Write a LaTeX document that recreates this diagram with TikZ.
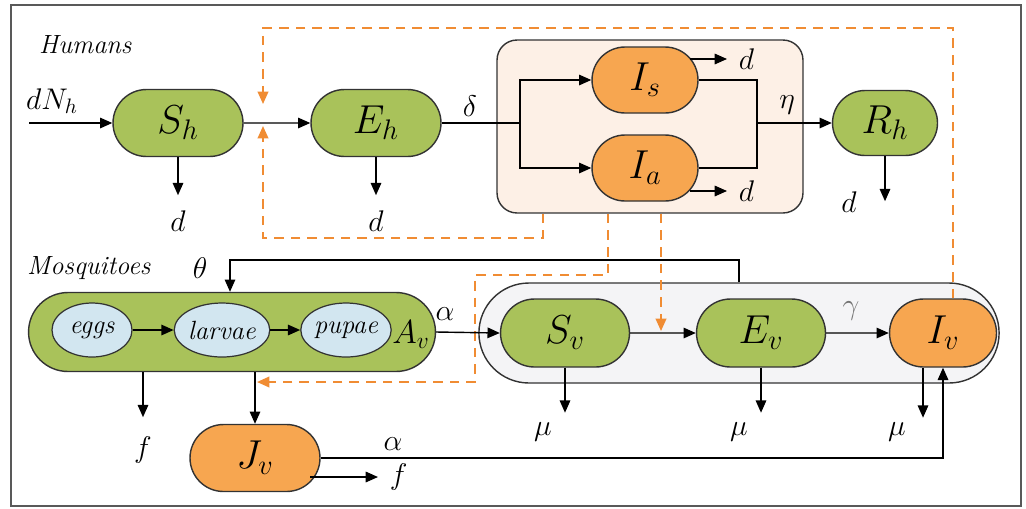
\documentclass[tikz,border=0pt]{standalone}
\usepackage{fix-cm}
\usetikzlibrary{shapes.misc,shapes.geometric,arrows.meta,calc}
\definecolor{grn}{HTML}{A9C25A}
\definecolor{org}{HTML}{F7A650}
\definecolor{peach}{HTML}{FDF0E6}
\definecolor{vgrey}{HTML}{F4F4F6}
\definecolor{lblue}{HTML}{D2E6F0}
\definecolor{dorange}{HTML}{F08C33}
\begin{document}
\begin{tikzpicture}[x=0.02cm,y=-0.02cm,
  box/.style={rounded rectangle, draw=black!80, line width=0.8pt, inner sep=0pt,
    font=\fontsize{23}{27}\selectfont},
  gbox/.style={box, fill=grn},
  obox/.style={box, fill=org},
  egg/.style={ellipse, draw=black!80, line width=0.7pt, fill=lblue, inner sep=0pt,
    minimum height=1.08cm, font=\fontsize{15}{17}\selectfont\itshape},
  arr/.style={-{Triangle[length=7pt,width=6pt]}, line width=0.8pt},
  ln/.style={line width=0.8pt},
  dsh/.style={draw=dorange, dash pattern=on 5.5pt off 4pt, line width=1.1pt},
  darr/.style={dsh, -{Triangle[length=7pt,width=6pt,fill=dorange]}},
  lbl/.style={font=\fontsize{17}{20}\selectfont},
  ttl/.style={font=\fontsize{15}{18}\selectfont\itshape, anchor=west}]
\useasboundingbox (0,0) rectangle (1026,508);
\draw[line width=1.3pt, black!65] (11,5) rectangle (1021,506);

% containers
\node[draw=black!80, fill=peach, rounded corners=0.4cm, line width=0.8pt,
  minimum width=6.12cm, minimum height=3.46cm] (hbox) at (650,126.5) {};
\node[rounded rectangle, draw=black!80, fill=vgrey, line width=0.8pt,
  minimum width=10.64cm, minimum height=2cm] (vbox) at (739,333) {};

% titles
\node[ttl] (th) at (33,45) {Humans};
\node[ttl] (tm) at (21,268) {Mosquitoes};

% human nodes
\node[gbox, minimum width=2.6cm, minimum height=1.34cm] (Sh) at (178,123) {$S_h$};
\node[gbox, minimum width=2.6cm, minimum height=1.34cm] (Eh) at (376,123) {$E_h$};
\node[obox, minimum width=2.12cm, minimum height=1.32cm] (Is) at (645,80) {$I_s$};
\node[obox, minimum width=2.12cm, minimum height=1.32cm] (Ia) at (645,168) {$I_a$};
\node[gbox, minimum width=2.1cm, minimum height=1.3cm] (Rh) at (885,123) {$R_h$};

% mosquito nodes
\node[gbox, minimum width=8.14cm, minimum height=1.58cm] (Av) at (232,332) {};
\node[egg, minimum width=1.6cm] (eggs) at (92,330) {eggs};
\node[egg, minimum width=1.58cm] (larvae) at (222,330) {larvae};
\node[egg, minimum width=1.64cm] (pupae) at (346,330) {pupae};
\node[font=\fontsize{19}{22}\selectfont] (Avl) at (411,335) {$A_v$};
\node[gbox, minimum width=2.58cm, minimum height=1.36cm] (Sv) at (565,333) {$S_v$};
\node[gbox, minimum width=2.58cm, minimum height=1.36cm] (Ev) at (761,333) {$E_v$};
\node[obox, minimum width=2.14cm, minimum height=1.36cm] (Iv) at (943,333) {$I_v$};
\node[obox, minimum width=2.6cm, minimum height=1.34cm] (Jv) at (255,458) {$J_v$};

% coordinates
\coordinate (in) at (29,123);
\coordinate (br) at (520,123);
\coordinate (jn) at (757,123);
\coordinate (t1) at (263,28);
\coordinate (t2) at (263,104);
\coordinate (b1) at (263,238);
\coordinate (b2) at (263,126);
\coordinate (m1) at (475,275);
\coordinate (m2) at (257,382);
\coordinate (ev1) at (661,331);
\coordinate (th1) at (230,260);

% human flows
\draw[arr] (in) -- (Sh);
\node[lbl] (dN) at (52,101) {$dN_h$};
\draw[arr] (Sh) -- (Eh);
\draw[arr] (Sh.south) -- ++(0,38) node[lbl, below=5pt] (d1) {$d$};
\draw[arr] (Eh.south) -- ++(0,38) node[lbl, below=5pt] (d2) {$d$};
\draw[ln] (Eh.east) -- (br);
\draw[arr] (br) |- (Is.west);
\draw[arr] (br) |- (Ia.west);
\node[lbl] (del) at (470,106) {$\delta$};
\draw[ln] (Is.east) -| (jn);
\draw[ln] (Ia.east) -| (jn);
\draw[arr] (jn) -- (Rh.west);
\node[lbl] (eta) at (787,105) {$\eta$};
\draw[arr] ($(Is.center)+(45,-21)$) -- ++(37,0) node[lbl, right=3pt] (d3) {$d$};
\draw[arr] ($(Ia.center)+(45,23)$) -- ++(37,0) node[lbl, right=3pt] (d4) {$d$};
\draw[arr] (Rh.south) -- ++(0,45);
\node[lbl] (d5) at (849,202) {$d$};

% dashed infection flows
\draw[darr] ($(Iv.north)+(10,0)$) |- (t1) -- (t2);
\draw[darr] ($(hbox.south)+(-107,0)$) |- (b1) -- (b2);
\draw[darr] ($(hbox.south)+(-42,0)$) |- (m1) |- (m2);
\draw[darr] ($(hbox.south)+(11,0)$) -- (ev1);

% mosquito flows
\draw[arr] (vbox.north) |- (th1) -- (th1 |- Av.north);
\node[lbl] (tha) at (200,268) {$\theta$};
\draw[arr] (eggs) -- (larvae);
\draw[arr] (larvae) -- (pupae);
\draw[arr] (Av.east) -- (Sv.west);
\node[lbl] (al1) at (445,314) {$\alpha$};
\draw[arr] (Sv) -- (Ev);
\draw[arr] (Ev) -- (Iv);
\node[lbl, text=black!55] (gam) at (851,311) {$\gamma$};
\draw[arr] (Sv.south) -- ++(0,45);
\node[lbl] (mu1) at (543,432) {$\mu$};
\draw[arr] (Ev.south) -- ++(0,45);
\node[lbl] (mu2) at (739,432) {$\mu$};
\draw[arr] ($(Iv.south)+(-20,0)$) -- ++(0,50);
\node[lbl] (mu3) at (897,432) {$\mu$};
\draw[arr] ($(Av.south)+(-89,0)$) -- ++(0,45);
\node[lbl] (f1) at (143,450) {$f$};
\draw[arr] ($(Av.south)+(23,0)$) -- (Jv.north);
\draw[arr] (Jv.east) -| (Iv.south);
\node[lbl] (al2) at (393,444) {$\alpha$};
\draw[arr] ($(Jv.center)+(55,19)$) -- ++(68,0) node[lbl, right=3pt] (f2) {$f$};
\end{tikzpicture}
\end{document}
